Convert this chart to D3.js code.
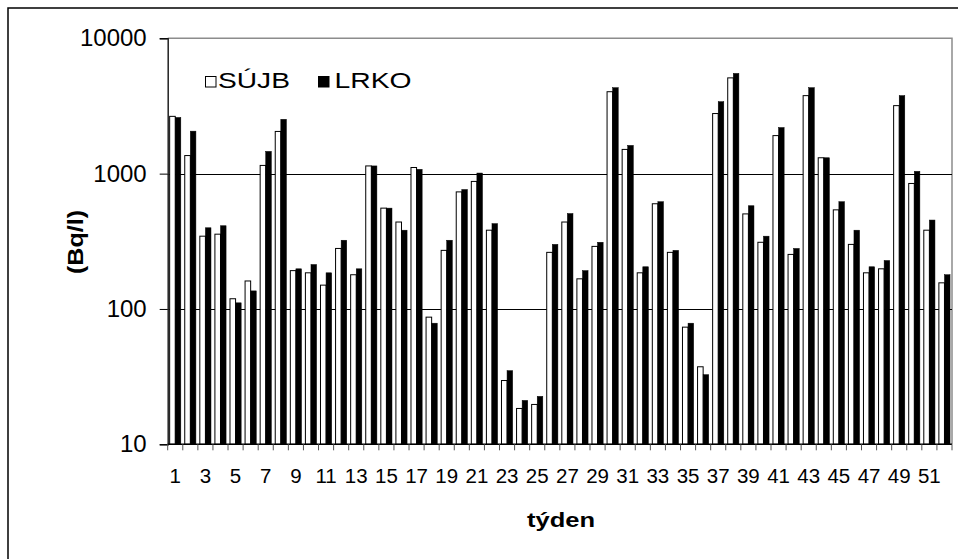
<!DOCTYPE html>
<html>
<head>
<meta charset="utf-8">
<script src="https://cdn.jsdelivr.net/npm/d3@7"></script>
<style>
  html, body { margin: 0; padding: 0; background: #fff; }
  svg { display: block; font-family: "Liberation Sans", Arial, sans-serif; }
</style>
</head>
<body>
<svg id="chart" width="958" height="559"></svg>
<script>
const weeks = d3.range(1, 53);
const sujb = [2650, 1360, 345, 357, 119, 161, 1150, 2050, 192, 185,
              150, 280, 179, 1140, 556, 439, 1110, 87, 271, 733,
              876, 382, 29.6, 18.4, 19.7, 262, 439, 167, 290, 4030,
              1510, 185, 599, 262, 73.4, 37.4, 2780, 5100, 504, 311,
              1910, 253, 3770, 1310, 540, 300, 185, 198, 3180, 846,
              382, 156];
const lrko = [2600, 2060, 398, 412, 111, 136, 1460, 2520, 198, 213,
              185, 322, 198, 1140, 556, 382, 1076, 78.5, 322, 763,
              1010, 427, 35.0, 21.1, 22.6, 300, 507, 192, 311, 4315,
              1616, 205, 620, 271, 78.5, 32.7, 3400, 5500, 579, 345,
              2190, 280, 4315, 1310, 620, 382, 205, 228, 3770, 1040,
              454, 179];
const seriesNames = ["SÚJB", "LRKO"];
const yTicks = [10, 100, 1000, 10000];
const xLabels = weeks.filter(w => w % 2 === 1);

(function draw() {
const svg = d3.select("#chart");
const pL = 167.7, pR = 952, pT = 38.3, pB = 444.3;

const x = d3.scaleBand().domain(weeks).range([pL, pR]).padding(0);
const y = d3.scaleLog().domain([10, 10000]).range([pB, pT]);

// outer frame
svg.append("rect").attr("x", 8).attr("y", 8).attr("width", 970).attr("height", 570)
  .attr("fill", "none").attr("stroke", "#000").attr("stroke-width", 1.5);

// plot border (top/right gray)
svg.append("path")
  .attr("d", `M${pL},${pT}H${pR}V${pB}`)
  .attr("fill", "none").attr("stroke", "#8c8c8c").attr("stroke-width", 1.5);

// gridlines
svg.append("g").selectAll("line").data([100, 1000]).join("line")
  .attr("x1", pL).attr("x2", pR)
  .attr("y1", d => Math.round(y(d)) + 0.5).attr("y2", d => Math.round(y(d)) + 0.5)
  .attr("stroke", "#000").attr("stroke-width", 1);

// bars
const bw = x.bandwidth() * 0.37;
const off = (x.bandwidth() - 2 * bw) / 2;
const g = svg.append("g");
g.selectAll("rect.s").data(weeks).join("rect").attr("class", "s")
  .attr("x", d => x(d) + off).attr("width", bw)
  .attr("y", (d, i) => y(sujb[i])).attr("height", (d, i) => pB - y(sujb[i]))
  .attr("fill", "#fff").attr("stroke", "#000").attr("stroke-width", 1);
g.selectAll("rect.l").data(weeks).join("rect").attr("class", "l")
  .attr("x", d => x(d) + off + bw).attr("width", bw)
  .attr("y", (d, i) => y(lrko[i])).attr("height", (d, i) => pB - y(lrko[i]))
  .attr("fill", "#000").attr("stroke", "#000").attr("stroke-width", 0.5);

// y axis
const yAxis = d3.axisLeft(y).tickValues(yTicks).tickFormat(d3.format("d")).tickSize(8).tickPadding(13);
const ya = svg.append("g").attr("transform", `translate(${pL},0)`).call(yAxis);
ya.select(".domain").attr("stroke", "#222").attr("stroke-width", 1.5);
ya.selectAll(".tick line").attr("stroke", "#000");
ya.selectAll(".tick text").attr("font-size", 24).attr("fill", "#000")
  .attr("font-family", "Liberation Sans, Arial, sans-serif");

// x axis
const xa = svg.append("g").attr("transform", `translate(0,${pB})`);
xa.append("line").attr("x1", pL).attr("x2", pR).attr("y1", 0).attr("y2", 0)
  .attr("stroke", "#000").attr("stroke-width", 1.5);
xa.selectAll("line.t").data(weeks.concat([53])).join("line").attr("class", "t")
  .attr("x1", d => d === 53 ? pR : x(d)).attr("x2", d => d === 53 ? pR : x(d))
  .attr("y1", 0).attr("y2", 6).attr("stroke", "#555").attr("stroke-width", 1);
xa.selectAll("text").data(xLabels).join("text")
  .attr("x", d => x(d) + x.bandwidth() / 2).attr("y", 38.5)
  .attr("text-anchor", "middle").attr("font-size", 20.5).attr("fill", "#000")
  .text(d => d);

// axis titles
svg.append("text").attr("transform", "translate(83,242) rotate(-90)")
  .attr("text-anchor", "middle").attr("font-weight", "bold").attr("font-size", 22)
  .attr("textLength", 64).attr("lengthAdjust", "spacingAndGlyphs")
  .text("(Bq/l)");
svg.append("text").attr("x", 561).attr("y", 527)
  .attr("text-anchor", "middle").attr("font-weight", "bold").attr("font-size", 21)
  .attr("textLength", 68).attr("lengthAdjust", "spacingAndGlyphs")
  .text("týden");

// legend
const legend = svg.append("g");
const legItems = [
  { name: seriesNames[0], bx: 205.5, tx: 218, fill: "#fff", tl: 72 },
  { name: seriesNames[1], bx: 318.5, tx: 334.5, fill: "#000", tl: 77 }
];
legItems.forEach(it => {
  legend.append("rect").attr("x", it.bx).attr("y", 76.5).attr("width", 10.5).attr("height", 10.5)
    .attr("fill", it.fill).attr("stroke", "#000").attr("stroke-width", 1);
  legend.append("text").attr("x", it.tx).attr("y", 87.5).attr("font-size", 21.5)
    .attr("textLength", it.tl).attr("lengthAdjust", "spacingAndGlyphs")
    .attr("fill", "#000").text(it.name);
});
})();
</script>
</body>
</html>
